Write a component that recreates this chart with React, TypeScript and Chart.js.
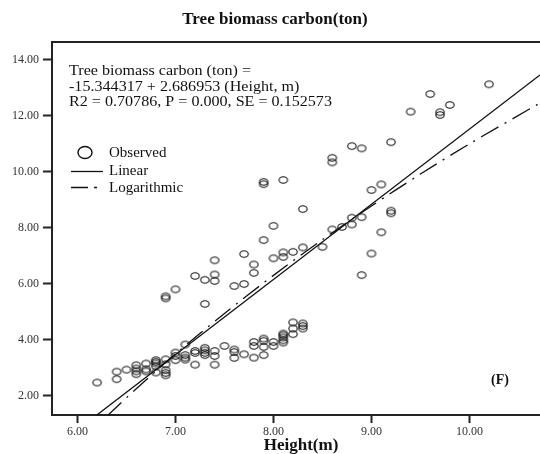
import { useEffect, useRef } from "react";
import { Chart, registerables } from "chart.js";
Chart.register(...registerables);

const chartTitle = "Tree biomass carbon(ton)";
const xAxisTitle = "Height(m)";
const panelLabel = "(F)";
const equationLines = [
  "Tree biomass carbon (ton) =",
  "-15.344317 + 2.686953 (Height, m)",
  "R2 = 0.70786, P = 0.000, SE = 0.152573",
];
const legendLabels = ["Observed", "Linear", "Logarithmic"];

const xTicks = [6, 7, 8, 9, 10];
const yTicks = [2, 4, 6, 8, 10, 12, 14];
const xMin = 5.74;
const xMax = 10.72;
const yMin = 1.31;
const yMax = 14.64;

// Observed points
const heightObs = [
  6.2, 6.4, 6.4, 6.5, 6.6, 6.6, 6.6, 6.6, 6.7, 6.7, 6.7, 6.8, 6.8, 6.8, 6.8, 6.8,
  6.9, 6.9, 6.9, 6.9, 6.9, 7.0, 7.0, 7.0, 7.1, 7.1, 7.1, 7.1, 7.2, 7.2, 7.2,
  7.3, 7.3, 7.3, 7.3, 7.4, 7.4, 7.4, 7.5, 7.6, 7.6, 7.6, 7.7, 7.8, 7.8, 7.8,
  7.9, 7.9, 7.9, 7.9, 8.0, 8.0, 8.1, 8.1, 8.1, 8.1, 8.1, 8.2, 8.2, 8.2, 8.3, 8.3, 8.3,
  6.9, 6.9, 7.0, 7.3, 7.2, 7.3, 7.4, 7.4, 7.4, 7.6, 7.7, 7.7, 7.8, 7.8, 7.9, 8.0,
  8.0, 8.1, 8.1, 8.2, 8.3, 8.5, 8.6, 8.7, 8.8, 8.8, 8.9, 8.3, 7.9, 7.9, 8.1, 8.6,
  8.6, 8.8, 8.9, 9.2, 9.0, 9.1, 9.2, 9.2, 9.1, 9.0, 8.9, 9.4, 9.6, 9.7, 9.7, 9.8, 10.2,
];
const carbonObs = [
  2.47, 2.86, 2.59, 2.93, 3.09, 2.97, 2.87, 2.77, 3.15, 2.94, 2.87, 3.27, 3.21, 3.15, 3.05, 2.83,
  3.30, 3.12, 2.91, 2.81, 2.73, 3.54, 3.42, 3.27, 3.83, 3.45, 3.36, 3.29, 3.60, 3.53, 3.11,
  3.71, 3.62, 3.53, 3.45, 3.60, 3.42, 3.11, 3.78, 3.65, 3.56, 3.35, 3.48, 3.92, 3.78, 3.36,
  4.04, 3.96, 3.74, 3.45, 3.92, 3.78, 4.22, 4.16, 4.08, 3.98, 3.90, 4.62, 4.40, 4.20, 4.58, 4.49, 4.40,
  5.55, 5.48, 5.80, 5.28, 6.28, 6.14, 6.84, 6.33, 6.10, 5.92, 5.99, 7.06, 6.69, 6.39, 7.56, 8.07,
  6.91, 7.12, 6.96, 7.14, 7.30, 7.32, 7.94, 8.03, 8.12, 8.36, 8.38, 8.67, 9.64, 9.56, 9.71, 10.50,
  10.34, 10.92, 10.84, 11.06, 9.35, 9.55, 8.61, 8.52, 7.84, 7.08, 6.31, 12.15, 12.78, 12.13, 12.03, 12.39, 13.13,
];

// Linear fit line (end points)
const linearX = [6.19, 10.72];
const linearY = [1.29, 13.46];

// Logarithmic fit curve
const logX = [6.3, 6.6, 7.0, 7.5, 8.0, 8.5, 9.0, 9.5, 10.0, 10.72];
const logY = [1.27, 2.25, 3.49, 4.94, 6.3, 7.58, 8.78, 9.92, 11.0, 12.46];

const SERIF = "'Liberation Serif', 'Times New Roman', serif";

export default function App() {
  const ref = useRef<HTMLCanvasElement | null>(null);

  useEffect(() => {
    const canvas = ref.current;
    if (!canvas) return;

    const marker = document.createElement("canvas");
    marker.width = 12;
    marker.height = 10;
    const mctx = marker.getContext("2d")!;
    mctx.strokeStyle = "#111";
    mctx.lineWidth = 1.1;
    mctx.beginPath();
    mctx.ellipse(6, 5, 4.2, 3.3, 0, 0, Math.PI * 2);
    mctx.stroke();

    const decor = {
      id: "decor",
      afterDraw(chart: any) {
        const ctx = chart.ctx;
        const a = chart.chartArea;
        ctx.save();
        // top border
        ctx.strokeStyle = "#222";
        ctx.lineWidth = 2;
        ctx.beginPath();
        ctx.moveTo(a.left, a.top);
        ctx.lineTo(540, a.top);
        ctx.stroke();

        ctx.fillStyle = "#111";
        ctx.textBaseline = "middle";
        ctx.textAlign = "center";
        ctx.font = `bold 17px ${SERIF}`;
        ctx.fillText(chartTitle, 275, 20);
        ctx.textBaseline = "alphabetic";
        ctx.font = `bold 17px ${SERIF}`;
        ctx.fillText(xAxisTitle, 301, 450);
        ctx.textBaseline = "middle";
        ctx.font = `bold 14px ${SERIF}`;
        ctx.fillText(panelLabel, 500, 380);

        // equation
        ctx.textAlign = "left";
        ctx.textBaseline = "alphabetic";
        ctx.font = `14px ${SERIF}`;
        const bases = [75, 90.5, 106];
        equationLines.forEach((t, i) => {
          ctx.save();
          ctx.translate(69, bases[i]);
          ctx.scale(1.15, 1);
          ctx.fillText(t, 0, 0);
          ctx.restore();
        });

        // legend
        ctx.textBaseline = "middle";
        ctx.font = `15px ${SERIF}`;
        ctx.strokeStyle = "#111";
        ctx.lineWidth = 1.4;
        ctx.beginPath();
        ctx.ellipse(85, 152.5, 7, 6, 0, 0, Math.PI * 2);
        ctx.stroke();
        ctx.fillText(legendLabels[0], 109, 153);
        ctx.lineWidth = 1.3;
        ctx.beginPath();
        ctx.moveTo(71, 171.5);
        ctx.lineTo(103, 171.5);
        ctx.stroke();
        ctx.fillText(legendLabels[1], 109, 171);
        ctx.beginPath();
        ctx.moveTo(71, 187.5);
        ctx.lineTo(88, 187.5);
        ctx.moveTo(94, 187.5);
        ctx.lineTo(97, 187.5);
        ctx.stroke();
        ctx.fillText(legendLabels[2], 109, 188);
        ctx.restore();
      },
    };

    const chart = new Chart(canvas, {
      type: "scatter",
      data: {
        datasets: [
          {
            label: "Linear",
            type: "line",
            data: linearX.map((x, i) => ({ x, y: linearY[i] })),
            borderColor: "#111",
            borderWidth: 1.3,
            pointRadius: 0,
            fill: false,
          },
          {
            label: "Logarithmic",
            type: "line",
            data: logX.map((x, i) => ({ x, y: logY[i] })),
            borderColor: "#111",
            borderWidth: 1.3,
            borderDash: [20, 7, 2, 7],
            pointRadius: 0,
            fill: false,
            tension: 0.3,
          },
          {
            label: "Observed",
            data: heightObs.map((x, i) => ({ x, y: carbonObs[i] })),
            pointStyle: marker as any,
            pointRadius: 5,
            borderColor: "#111",
            backgroundColor: "rgba(0,0,0,0)",
          },
        ],
      },
      options: {
        animation: false,
        responsive: false,
        devicePixelRatio: 1,
        layout: { autoPadding: false, padding: { top: 42, right: 0, left: 0, bottom: 0 } },
        plugins: {
          legend: { display: false },
          title: { display: false },
          tooltip: { enabled: false },
        },
        scales: {
          x: {
            type: "linear",
            min: xMin,
            max: xMax,
            afterFit: (s: any) => {
              s.height = 39;
              s.paddingLeft = 0;
              s.paddingRight = 0;
            },
            afterBuildTicks: (s: any) => {
              s.ticks = xTicks.map((v) => ({ value: v }));
            },
            grid: {
              drawOnChartArea: false,
              drawTicks: true,
              tickLength: 8,
              tickWidth: 2,
              tickColor: "#222",
            },
            border: { display: true, color: "#222", width: 2 },
            ticks: {
              padding: 2,
              color: "#333",
              font: { family: SERIF, size: 12 },
              maxRotation: 0,
              callback: (v: any) => Number(v).toFixed(2),
            },
          },
          y: {
            type: "linear",
            min: yMin,
            max: yMax,
            afterFit: (s: any) => {
              s.width = 52;
              s.paddingTop = 0;
              s.paddingBottom = 0;
            },
            afterBuildTicks: (s: any) => {
              s.ticks = yTicks.map((v) => ({ value: v }));
            },
            grid: {
              drawOnChartArea: false,
              drawTicks: true,
              tickLength: 9,
              tickWidth: 2,
              tickColor: "#222",
            },
            border: { display: true, color: "#222", width: 2 },
            ticks: {
              padding: 4,
              color: "#333",
              font: { family: SERIF, size: 12 },
              callback: (v: any) => Number(v).toFixed(2),
            },
          },
        },
      },
      plugins: [decor],
    });

    return () => chart.destroy();
  }, []);

  return (
    <div style={{ position: "fixed", left: 0, top: 0, width: 540, height: 454, background: "#fff" }}>
      <canvas ref={ref} width={540} height={454} style={{ display: "block" }} />
    </div>
  );
}
